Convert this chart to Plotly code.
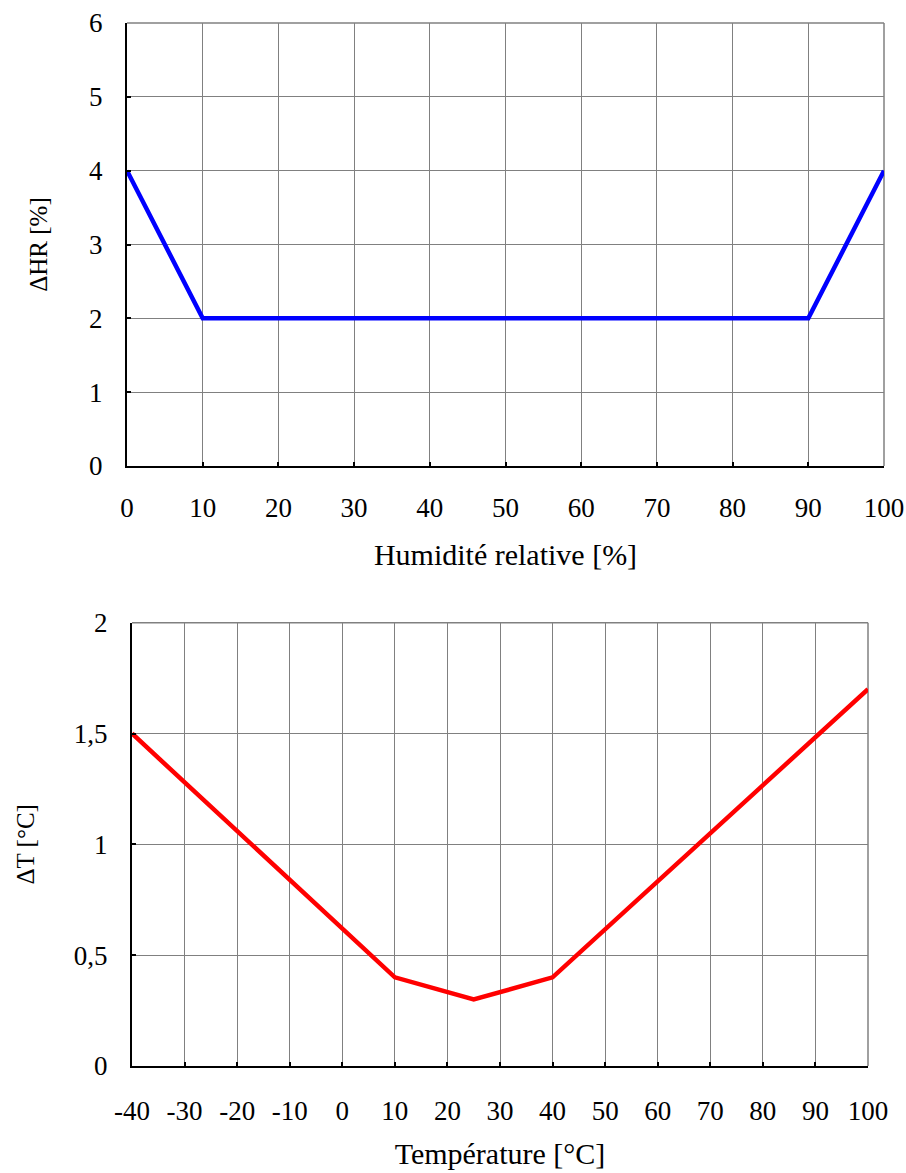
import plotly.graph_objects as go

# Top chart data
hr_x = [0, 10, 90, 100]
hr_y = [4, 2, 2, 4]
hr_ticks = [0, 10, 20, 30, 40, 50, 60, 70, 80, 90, 100]
hr_yticks = [0, 1, 2, 3, 4, 5, 6]

# Bottom chart data
t_x = [-40, 10, 25, 40, 100]
t_y = [1.5, 0.4, 0.3, 0.4, 1.7]
t_ticks = [-40, -30, -20, -10, 0, 10, 20, 30, 40, 50, 60, 70, 80, 90, 100]
t_ticklabels = ["-40", "-30", "-20", "-10", "0", "10", "20", "30", "40", "50",
                "60", "70", "80", "90", "100"]
t_yticks = [0, 0.5, 1, 1.5, 2]
t_yticklabels = ["0", "0,5", "1", "1,5", "2"]

W, H = 906, 1173
FONT = "Liberation Serif"
TICK_FS = 27
XT_FS = 30
YT_FS = 25

def px_x(a, b):
    return [a / W, b / W]

def px_y(top, bottom):
    return [1 - bottom / H, 1 - top / H]

fig = go.Figure()
fig.add_trace(go.Scatter(x=hr_x, y=hr_y, mode="lines",
                         line=dict(color="#0000ff", width=4.5), xaxis="x", yaxis="y",
                         showlegend=False, cliponaxis=False))
fig.add_trace(go.Scatter(x=t_x, y=t_y, mode="lines",
                         line=dict(color="#ff0000", width=4.5), xaxis="x2", yaxis="y2",
                         showlegend=False, cliponaxis=False))

axis_common = dict(showline=True, linecolor="black", linewidth=2,
                   showgrid=True, gridcolor="#808080", gridwidth=1,
                   ticks="inside", ticklen=4, tickwidth=2, tickcolor="black",
                   zeroline=False, automargin=False,
                   tickfont=dict(family=FONT, size=TICK_FS, color="black"))

# gray frame for top and right edges
shapes = []
for xr, yr in (("x domain", "y domain"), ("x2 domain", "y2 domain")):
    shapes.append(dict(type="line", xref=xr, yref=yr, x0=0, x1=1, y0=1, y1=1,
                       line=dict(color="#808080", width=1.5), layer="below"))
    shapes.append(dict(type="line", xref=xr, yref=yr, x0=1, x1=1, y0=0, y1=1,
                       line=dict(color="#808080", width=1.5), layer="below"))

fig.update_layout(
    width=W, height=H, margin=dict(l=0, r=0, t=0, b=0),
    paper_bgcolor="white", plot_bgcolor="white",
    font=dict(family=FONT, size=TICK_FS, color="black"),
    shapes=shapes,
    xaxis=dict(domain=px_x(127, 884), range=[0, 100], tickvals=hr_ticks,
               anchor="y", ticklabelstandoff=17,
               title=dict(text="Humidité relative [%]", standoff=22,
                          font=dict(family=FONT, size=XT_FS)), **axis_common),
    yaxis=dict(domain=px_y(23, 466), range=[0, 6], tickvals=hr_yticks,
               anchor="x", ticklabelstandoff=17,
               title=dict(text="ΔHR [%]", standoff=34,
                          font=dict(family=FONT, size=YT_FS)), **axis_common),
    xaxis2=dict(domain=px_x(132, 868), range=[-40, 100], tickvals=t_ticks,
                ticktext=t_ticklabels,
                anchor="y2", ticklabelstandoff=20,
                title=dict(text="Température [°C]", standoff=18,
                           font=dict(family=FONT, size=XT_FS)), **axis_common),
    yaxis2=dict(domain=px_y(622.7, 1066), range=[0, 2], tickvals=t_yticks,
                ticktext=t_yticklabels, anchor="x2", ticklabelstandoff=17,
                title=dict(text="ΔT [°C]", standoff=32,
                           font=dict(family=FONT, size=YT_FS)), **axis_common),
)

fig.write_html("out.html", config={"displayModeBar": False},
               post_script="document.body.style.margin='0';")
